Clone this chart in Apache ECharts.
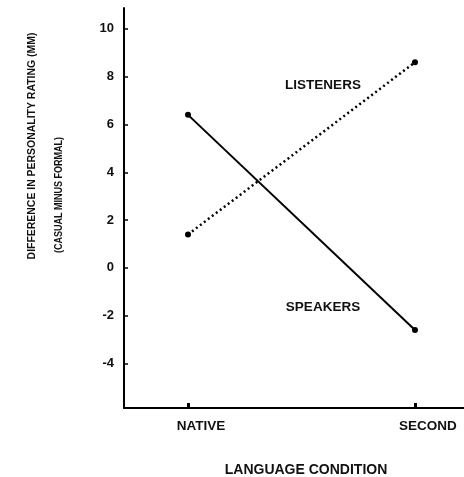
<!DOCTYPE html>
<html>
<head>
<meta charset="utf-8">
<script src="https://cdn.jsdelivr.net/npm/echarts@6/dist/echarts.min.js"></script>
<style>
html,body{margin:0;padding:0;background:#fff;}
#chart{width:464px;height:477px;}
</style>
</head>
<body>
<div id="chart"></div>
<script>
var categories = ['NATIVE', 'SECOND'];
var catPositions = [0, 1];
var speakers = [6.4, -2.6];
var listeners = [1.4, 8.6];
var yTicks = [-4, -2, 0, 2, 4, 6, 8, 10];
var yTitle1 = 'DIFFERENCE IN PERSONALITY RATING (MM)';
var yTitle2 = '(CASUAL MINUS FORMAL)';
var xTitle = 'LANGUAGE CONDITION';
var seriesNames = ['LISTENERS', 'SPEAKERS'];

function pairs(vals) { return catPositions.map(function (x, i) { return [x, vals[i]]; }); }

var FONT = 'Liberation Sans, Arial, sans-serif';
var chart = echarts.init(document.getElementById('chart'));
chart.setOption({
  animation: false,
  backgroundColor: '#fff',
  grid: { left: 124, right: 0, top: 8, bottom: 69, containLabel: false, outerBoundsMode: 'none' },
  xAxis: {
    type: 'value', min: -0.282, max: 1.216,
    axisLine: { show: true, onZero: false, lineStyle: { color: '#000', width: 2 } },
    axisTick: { show: true, inside: true, length: 5, customValues: catPositions, lineStyle: { color: '#000', width: 3 } },
    axisLabel: { customValues: catPositions, formatter: function (v) { return categories[Math.round(v)]; },
      color: '#111', fontFamily: FONT, fontWeight: 'bold', fontSize: 13.5, margin: 11, padding: [0, 0, 0, 26] },
    splitLine: { show: false },
    name: xTitle, nameLocation: 'middle', nameGap: 55,
    nameTextStyle: { color: '#111', fontFamily: FONT, fontWeight: 'bold', fontSize: 14, padding: [0, 0, 0, 24] }
  },
  yAxis: {
    type: 'value', min: -5.86, max: 10.87,
    axisLine: { show: true, onZero: false, lineStyle: { color: '#000', width: 2 } },
    axisTick: { show: true, inside: true, length: 4, customValues: yTicks, lineStyle: { color: '#000', width: 1.5 } },
    axisLabel: { customValues: yTicks, color: '#111', fontFamily: FONT, fontWeight: 'bold', fontSize: 13, margin: 10 },
    splitLine: { show: false }
  },
  series: [
    { name: seriesNames[0], type: 'line', data: pairs(listeners), symbol: 'circle', symbolSize: 6,
      itemStyle: { color: '#000' }, lineStyle: { color: '#000', width: 2.5, type: [2, 3] } },
    { name: seriesNames[1], type: 'line', data: pairs(speakers), symbol: 'circle', symbolSize: 6,
      itemStyle: { color: '#000' }, lineStyle: { color: '#000', width: 2 } }
  ],
  graphic: [
    { type: 'text', x: 32, y: 146, rotation: Math.PI / 2, scaleX: 0.95,
      style: { text: yTitle1, fontFamily: FONT, fontWeight: 'bold', fontSize: 11, fill: '#111', align: 'center', verticalAlign: 'middle' } },
    { type: 'text', x: 59, y: 195, rotation: Math.PI / 2, scaleX: 0.82,
      style: { text: yTitle2, fontFamily: FONT, fontWeight: 'bold', fontSize: 11, fill: '#111', align: 'center', verticalAlign: 'middle' } },
    { type: 'text', x: 323, y: 85,
      style: { text: seriesNames[0], fontFamily: FONT, fontWeight: 'bold', fontSize: 13.5, fill: '#111', align: 'center', verticalAlign: 'middle' } },
    { type: 'text', x: 323, y: 307,
      style: { text: seriesNames[1], fontFamily: FONT, fontWeight: 'bold', fontSize: 13.5, fill: '#111', align: 'center', verticalAlign: 'middle' } }
  ]
});
</script>
</body>
</html>
